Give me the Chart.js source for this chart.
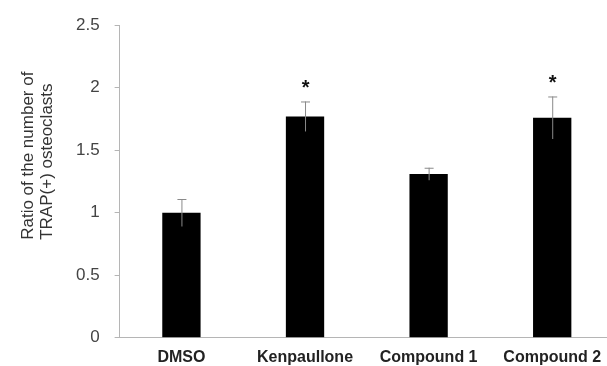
<!DOCTYPE html>
<html><head><meta charset="utf-8">
<script src="https://cdn.jsdelivr.net/npm/chart.js@4"></script>
<style>html,body{margin:0;padding:0;overflow:hidden;background:#fff}#wrap{width:620px;height:377px;position:relative}</style>
</head><body><div id="wrap"><canvas id="c"></canvas></div>
<script>
const categories = ["DMSO", "Kenpaullone", "Compound 1", "Compound 2"];
const ratios = [1.00, 1.77, 1.31, 1.76];
const errors = [0.11, 0.12, 0.05, 0.17];
const significance = ["", "*", "", "*"];
const yTitleLines = ["Ratio of the number of", "TRAP(+) osteoclasts"];
const yMin = 0, yMax = 2.5, yStep = 0.5;

const FONT = "'Liberation Sans', Arial, Helvetica, sans-serif";

const extras = {
  id: 'extras',
  afterDatasetsDraw(chart) {
    const ctx = chart.ctx, y = chart.scales.y, meta = chart.getDatasetMeta(0);
    ctx.save();
    meta.data.forEach((bar, i) => {
      const x = bar.x;
      const top = y.getPixelForValue(ratios[i] + errors[i]);
      const bot = y.getPixelForValue(ratios[i] - errors[i]);
      ctx.strokeStyle = '#8a8a8a';
      ctx.lineWidth = 1;
      ctx.beginPath();
      ctx.moveTo(x + 0.5, top); ctx.lineTo(x + 0.5, bot);
      ctx.moveTo(x - 4, top + 0.5); ctx.lineTo(x + 5, top + 0.5);
      ctx.stroke();
      if (significance[i]) {
        ctx.fillStyle = '#111';
        ctx.font = 'bold 20px ' + FONT;
        ctx.textAlign = 'center';
        ctx.textBaseline = 'alphabetic';
        ctx.fillText(significance[i], x + 0.5, y.getPixelForValue(ratios[i] + errors[i] + 0.06));
      }
    });
    // y axis title
    const a = chart.chartArea;
    ctx.fillStyle = '#333';
    ctx.font = '17px ' + FONT;
    ctx.textAlign = 'left';
    ctx.textBaseline = 'middle';
    yTitleLines.forEach((line, k) => {
      ctx.save();
      ctx.translate(a.left - 91 + k * 19, a.bottom - 98);
      ctx.rotate(-Math.PI / 2);
      ctx.fillText(line, 0, 0);
      ctx.restore();
    });
    ctx.restore();
  }
};

new Chart(document.getElementById('c'), {
  type: 'bar',
  data: {
    labels: categories,
    datasets: [{
      data: ratios,
      backgroundColor: '#000',
      borderWidth: 0,
      barPercentage: 0.31,
      categoryPercentage: 1.0
    }]
  },
  options: {
    responsive: true,
    maintainAspectRatio: false,
    animation: false,
    layout: { padding: { left: 61, right: 6, top: 18, bottom: 0 } },
    plugins: { legend: { display: false }, tooltip: { enabled: false } },
    scales: {
      x: {
        grid: { display: true, drawOnChartArea: false, drawTicks: false },
        border: { display: true, color: '#b5b5b5', width: 1 },
        ticks: { color: '#222', font: { family: FONT, size: 16, weight: 'bold' }, padding: 10 }
      },
      y: {
        min: yMin, max: yMax,
        grid: { display: true, drawOnChartArea: false, drawTicks: true, tickLength: 5, color: '#b5b5b5' },
        border: { display: true, color: '#b5b5b5', width: 1 },
        ticks: { stepSize: yStep, color: '#444', font: { family: FONT, size: 17 }, padding: 15,
                 callback: v => String(v) }
      }
    }
  },
  plugins: [extras]
});
</script>
</body></html>
